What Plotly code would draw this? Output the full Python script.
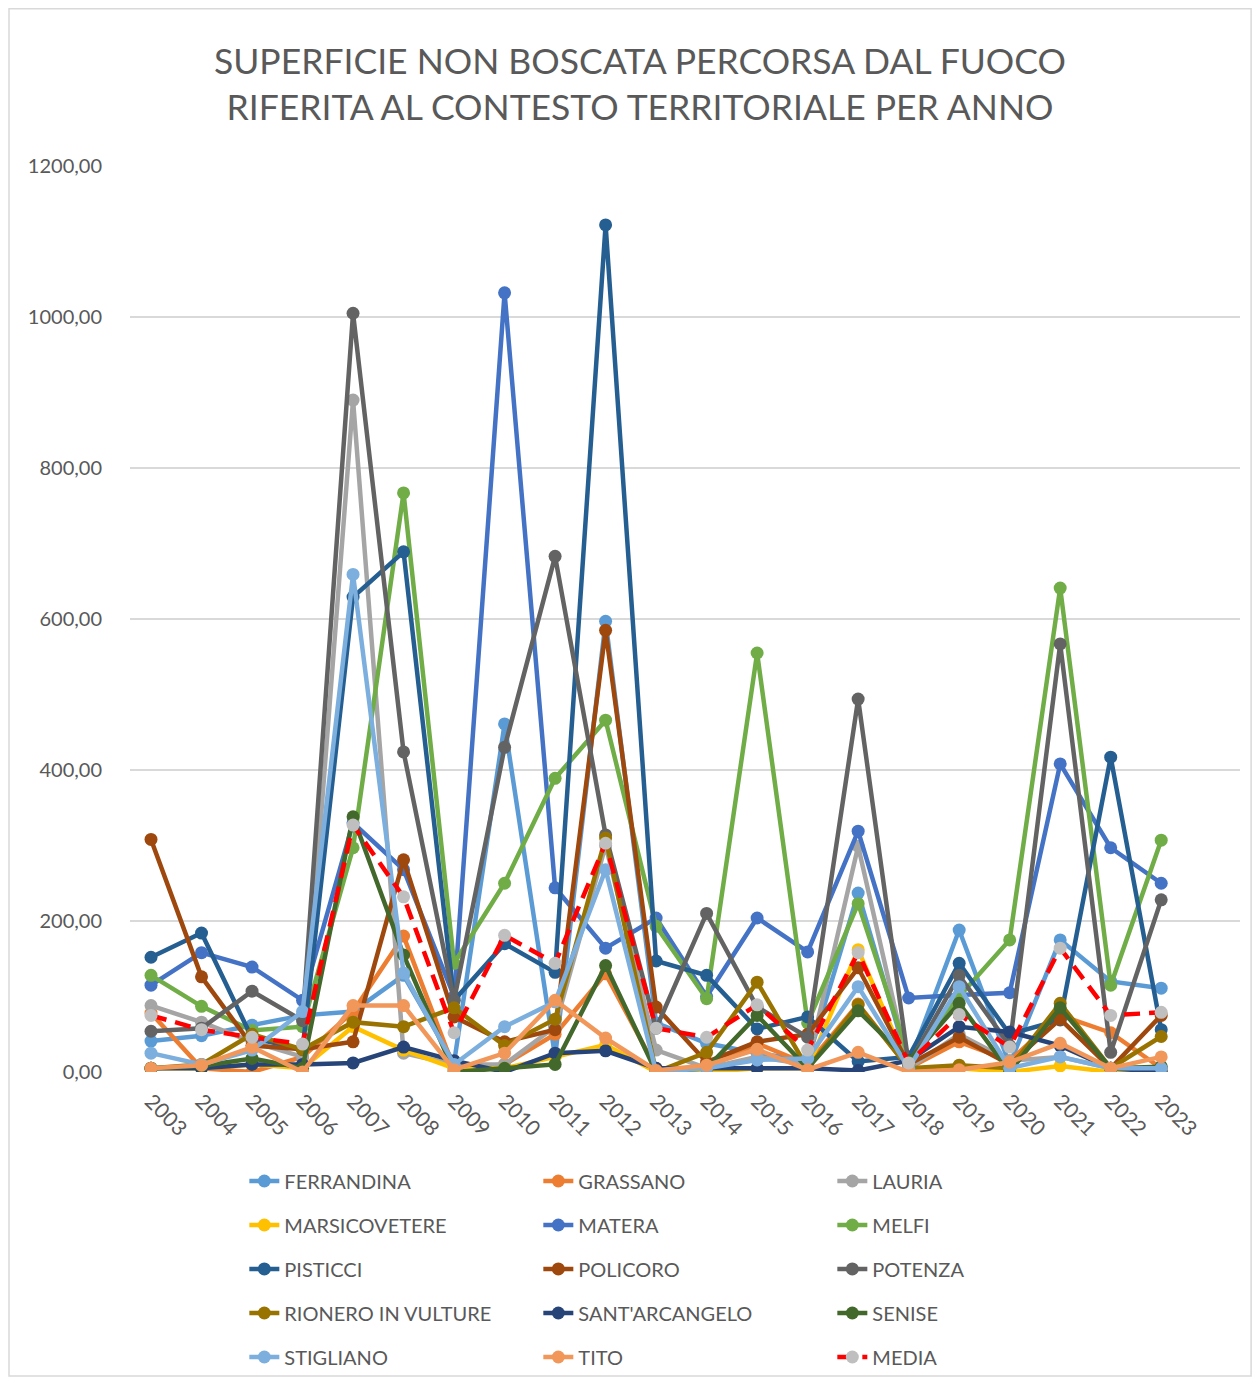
import plotly.graph_objects as go

# --- data (hectares) ---
anni = list(range(2003, 2024))

ferrandina = [41, 48, 62, 75, 80, 128, 12, 461, 20, 597, 65, 38, 25, 15, 237, 10, 188, 10, 175, 120, 111]
grassano = [78, 5, 0, 20, 80, 180, 5, 10, 50, 130, 5, 5, 38, 10, 90, 5, 40, 15, 75, 52, 5]
lauria = [88, 66, 40, 20, 890, 25, 10, 10, 60, 300, 29, 5, 20, 10, 299, 5, 50, 15, 20, 5, 5]
marsicovetere = [5, 5, 10, 5, 60, 29, 5, 5, 20, 36, 0, 0, 5, 5, 162, 5, 5, 0, 8, 0, 0]
matera = [115, 158, 139, 95, 330, 268, 100, 1032, 244, 164, 204, 100, 204, 159, 319, 98, 102, 105, 408, 297, 250]
melfi = [128, 87, 55, 60, 297, 767, 144, 250, 389, 466, 193, 97, 555, 65, 223, 20, 100, 175, 641, 115, 307]
pisticci = [152, 184, 45, 30, 629, 689, 95, 170, 132, 1122, 147, 128, 57, 73, 14, 20, 144, 50, 69, 417, 56]
policoro = [308, 126, 35, 30, 40, 281, 73, 40, 56, 585, 86, 13, 40, 50, 138, 10, 46, 10, 70, 5, 75]
potenza = [54, 58, 107, 68, 1005, 424, 95, 430, 683, 314, 58, 210, 86, 46, 494, 10, 128, 35, 567, 26, 228]
rionero = [5, 10, 50, 30, 66, 60, 85, 35, 70, 310, 0, 26, 119, 5, 89, 5, 9, 5, 91, 5, 47]
santarcangelo = [5, 5, 10, 10, 12, 33, 15, 0, 25, 28, 5, 5, 5, 5, 2, 15, 60, 53, 35, 5, 0]
senise = [5, 8, 18, 5, 338, 155, 0, 5, 10, 141, 0, 5, 75, 5, 81, 15, 91, 0, 85, 5, 7]
stigliano = [25, 10, 29, 80, 659, 131, 10, 60, 93, 268, 0, 5, 16, 18, 113, 5, 113, 5, 20, 5, 5]
tito = [5, 9, 33, 0, 88, 88, 3, 25, 95, 45, 2, 9, 30, 3, 26, 0, 3, 13, 38, 5, 20]
media = [75, 56, 46, 37, 327, 232, 52, 181, 144, 303, 58, 46, 89, 29, 158, 12, 76, 33, 164, 75, 79]

serie = [
    ("FERRANDINA", ferrandina, "#5B9BD5"),
    ("GRASSANO", grassano, "#ED7D31"),
    ("LAURIA", lauria, "#A5A5A5"),
    ("MARSICOVETERE", marsicovetere, "#FFC000"),
    ("MATERA", matera, "#4472C4"),
    ("MELFI", melfi, "#70AD47"),
    ("PISTICCI", pisticci, "#255E91"),
    ("POLICORO", policoro, "#9E480E"),
    ("POTENZA", potenza, "#636363"),
    ("RIONERO IN VULTURE", rionero, "#997300"),
    ("SANT'ARCANGELO", santarcangelo, "#264478"),
    ("SENISE", senise, "#43682B"),
    ("STIGLIANO", stigliano, "#7CAFDD"),
    ("TITO", tito, "#F1975A"),
]

FONT = "Lato"
GREY_TXT = "#595959"

fig = go.Figure()

legend_ids = ["legend", "legend2", "legend3", "legend4", "legend5"]

for i, (name, vals, col) in enumerate(serie):
    fig.add_trace(go.Scatter(
        x=anni, y=vals, name=name, mode="lines+markers",
        line=dict(color=col, width=4.5),
        marker=dict(color=col, size=13, line=dict(width=0)),
        legend=legend_ids[i // 3],
    ))

fig.add_trace(go.Scatter(
    x=anni, y=media, name="MEDIA", mode="lines+markers",
    line=dict(color="#FF0000", width=4.5, dash="16px,9px"),
    marker=dict(color="#BFBFBF", size=13, line=dict(width=0)),
    legend="legend5",
))

# one horizontal legend per row, 3 entries each
row_y = [-0.1203, -0.1689, -0.2174, -0.2660, -0.3146]
legend_cfg = {}
for lid, yy in zip(legend_ids, row_y):
    legend_cfg[lid] = dict(
        orientation="h", x=0.103, xanchor="left", y=yy, yanchor="middle",
        entrywidth=249, entrywidthmode="pixels",
        font=dict(family=FONT, size=20, color=GREY_TXT),
        bgcolor="rgba(0,0,0,0)", itemclick=False,
    )

fig.update_layout(
    width=1244, height=1369,
    margin=dict(l=122, r=12, t=158, b=305, autoexpand=False),
    paper_bgcolor="white", plot_bgcolor="white",
    separators=",.",
    font=dict(family=FONT, color=GREY_TXT),
    title=dict(
        text="SUPERFICIE NON BOSCATA PERCORSA DAL FUOCO<br>RIFERITA AL CONTESTO TERRITORIALE PER ANNO",
        x=0.508, xanchor="center", y=0.952, yanchor="top",
        font=dict(family=FONT, size=35.5, color=GREY_TXT),
    ),
    showlegend=True,
    **legend_cfg,
)

fig.update_xaxes(
    range=[2002.584, 2024.56], tickmode="array", tickvals=anni,
    ticktext=[str(a) for a in anni], tickangle=45,
    tickfont=dict(family=FONT, size=21, color=GREY_TXT),
    showgrid=False, zeroline=False, showline=False, ticks="",
    ticklabelstandoff=12,
)
fig.update_yaxes(
    range=[0, 1200], dtick=200, tickformat=".2f",
    tickfont=dict(family=FONT, size=20, color=GREY_TXT),
    showgrid=True, gridcolor="#D9D9D9", gridwidth=2,
    zeroline=False, showline=False, ticks="", ticklabelstandoff=27,
)

# chart border
fig.add_shape(type="rect", xref="paper", yref="paper",
              x0=-0.1090, x1=1.0100, y0=-0.3355, y1=1.1735,
              line=dict(color="#D9D9D9", width=1.5), layer="below")

fig.write_html("out.html")
